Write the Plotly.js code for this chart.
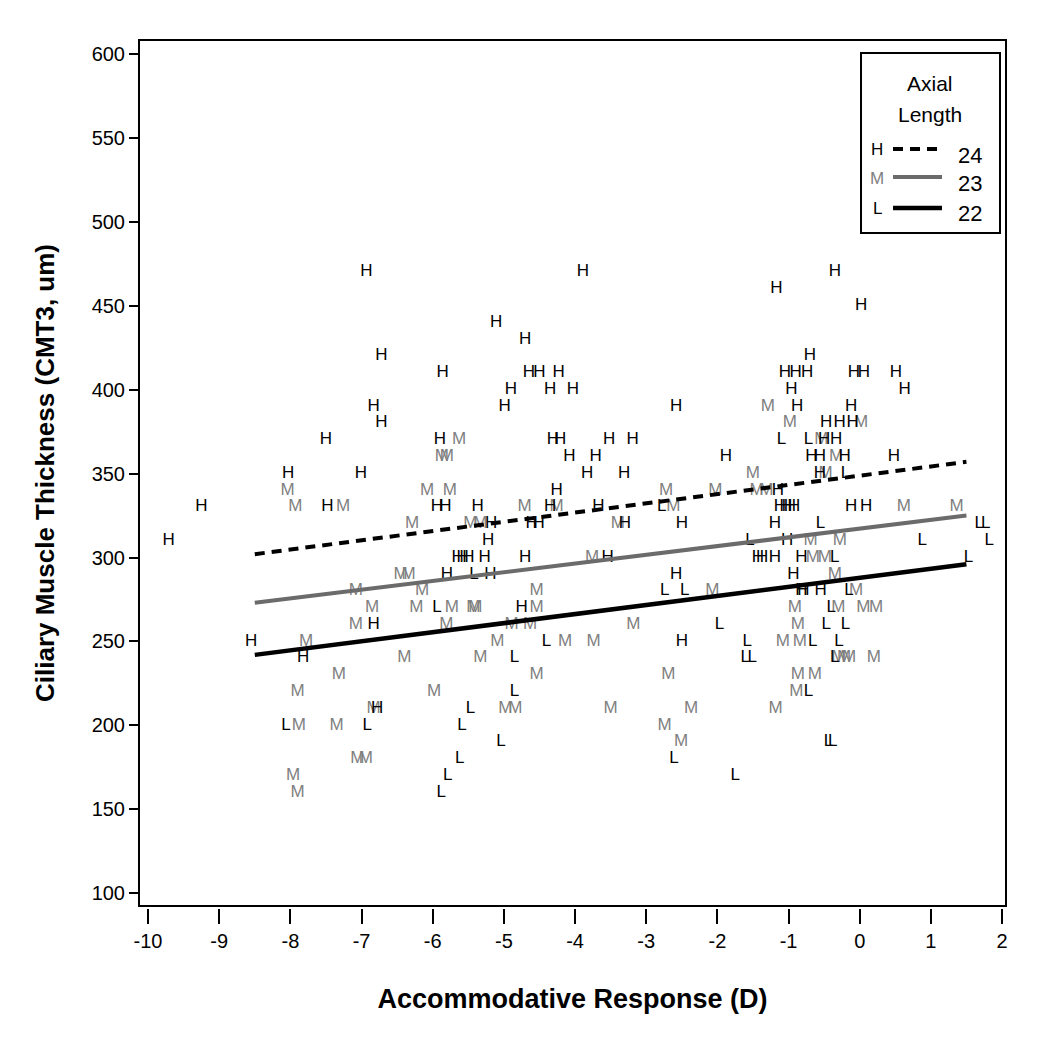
<!DOCTYPE html>
<html>
<head>
<meta charset="utf-8">
<script src="https://cdn.plot.ly/plotly-3.0.1.min.js"></script>
<style>html,body{margin:0;padding:0;background:#fff;}#chart{width:1046px;height:1050px;}</style>
</head>
<body>
<div id="chart"></div>
<script>
// ---- Data ----
// Group H (long axial length)
var H_X = [-6.93,-3.89,-0.35,-1.17,0.02,-5.11,-4.70,-6.72,-0.70,-5.86,-4.65,-4.50,-4.23,-1.05,-0.90,-0.74,-0.08,0.06,0.51,
  -4.90,-4.35,-4.03,-0.96,0.63,-6.83,-4.99,-2.58,-0.88,-0.12,-6.72,-0.47,-0.28,-0.10,
  -7.50,-5.90,-4.31,-4.21,-3.52,-3.19,-0.50,-0.33,-4.08,-3.71,-1.88,-0.68,-0.56,-0.21,0.48,
  -8.03,-7.01,-3.83,-3.31,-0.56,-4.26,-1.15,
  -9.25,-7.48,-5.94,-5.82,-5.37,-4.35,-3.67,-1.12,-1.04,-0.98,-0.92,-0.12,0.09,
  -5.18,-4.61,-4.51,-3.30,-2.50,-1.19,-9.71,-5.22,-1.02,
  -5.65,-5.58,-5.50,-5.27,-4.70,-3.54,-1.43,-1.37,-1.19,-0.82,
  -5.80,-5.19,-2.58,-0.93,-0.82,-0.79,-0.55,-4.75,-6.83,-8.55,-2.50,-7.82,-6.78];
var H_Y = [470,470,470,460,450,440,430,420,420,410,410,410,410,410,410,410,410,410,410,
  400,400,400,400,400,390,390,390,390,390,380,380,380,380,
  370,370,370,370,370,370,370,370,360,360,360,360,360,360,360,
  350,350,350,350,350,340,340,
  330,330,330,330,330,330,330,330,330,330,330,330,330,
  320,320,320,320,320,320,310,310,310,
  300,300,300,300,300,300,300,300,300,300,
  290,290,290,290,280,280,280,270,260,250,250,240,210];

// Group M (medium axial length)
var M_X = [-8.04,-7.93,-7.26,-6.08,-6.29,-5.63,-5.87,-5.80,-5.76,-2.72,-2.03,-4.71,-4.26,-2.62,-5.47,-5.33,-3.40,
  -1.29,-0.98,0.02,-0.54,-0.33,-1.50,-0.48,-1.45,-1.31,0.62,1.36,-0.69,-0.28,-3.76,-0.66,-0.49,-0.35,
  -6.45,-6.34,-7.08,-6.15,-4.54,-2.07,-0.05,
  -6.85,-6.23,-5.73,-5.43,-5.40,-4.54,-0.91,-0.30,0.05,0.23,
  -7.08,-5.81,-4.89,-4.63,-3.18,-0.87,
  -7.78,-5.09,-4.14,-3.74,-1.08,-0.84,
  -6.40,-5.33,-0.30,-0.22,-0.15,0.20,
  -7.32,-4.54,-2.69,-0.87,-0.63,
  -7.90,-5.98,-0.89,
  -6.83,-4.98,-4.84,-3.50,-2.37,-1.18,
  -7.88,-7.35,-2.74,-2.51,-7.06,-6.94,-7.96,-7.90];
var M_Y = [340,330,330,340,320,370,360,360,340,340,340,330,330,330,320,320,320,
  390,380,380,370,360,350,350,340,340,330,330,310,310,300,300,300,290,
  290,290,280,280,280,280,280,
  270,270,270,270,270,270,270,270,270,270,
  260,260,260,260,260,260,
  250,250,250,250,250,250,
  240,240,240,240,240,240,
  230,230,230,230,230,
  220,220,220,
  210,210,210,210,210,210,
  200,200,200,190,180,180,170,160];

// Group L (short axial length)
var L_X = [-2.78,-1.10,-0.72,-0.20,-0.55,1.68,1.77,-1.54,0.88,1.82,-0.35,1.53,
  -5.42,-2.74,-2.46,-0.15,-5.94,-0.40,-1.97,-0.47,-0.20,
  -4.40,-1.58,-0.66,-0.29,-4.85,-1.61,-1.51,-0.35,
  -4.85,-0.72,-5.47,-8.06,-6.92,-5.59,-5.04,-0.44,-0.38,-5.62,-2.61,-5.79,-1.75,-5.88];
var L_Y = [330,370,370,350,320,320,320,310,310,310,300,300,
  290,280,280,280,270,270,260,260,260,
  250,250,250,250,240,240,240,240,
  220,220,210,200,200,200,190,190,190,180,180,170,170,160];

// Fitted lines at axial length 24 / 23 / 22 mm
var FIT_X = [-8.5, 1.5];
var FIT_24 = [302, 357];
var FIT_23 = [273, 325];
var FIT_22 = [242, 296];

// Tick labels (plain hyphen minus, as in the reference)
var X_TICKS = [-10,-9,-8,-7,-6,-5,-4,-3,-2,-1,0,1,2];
var X_TICK_LABELS = ['-10','-9','-8','-7','-6','-5','-4','-3','-2','-1','0','1','2'];
var Y_TICKS = [100,150,200,250,300,350,400,450,500,550,600];
var Y_TICK_LABELS = ['100','150','200','250','300','350','400','450','500','550','600'];

var LEGEND_LABELS = ['24', '23', '22'];
var LEGEND_LETTERS = ['H', 'M', 'L'];

// ---- Styling ----
var FONT = '"Liberation Sans", Arial, Helvetica, sans-serif';
var GRAY_TXT = '#7f7f7f';
var GRAY_LINE = '#6b6b6b';

function textTrace(x, y, letter, color) {
  return {
    x: x, y: y, mode: 'text', type: 'scatter',
    text: x.map(function(){ return letter; }),
    textposition: 'middle center',
    textfont: {family: FONT, size: 17, color: color},
    showlegend: false, hoverinfo: 'skip'
  };
}

var traces = [
  textTrace(M_X, M_Y, 'M', GRAY_TXT),
  textTrace(H_X, H_Y, 'H', '#000'),
  textTrace(L_X, L_Y, 'L', '#000'),
  {x: FIT_X, y: FIT_23, mode: 'lines', type: 'scatter', line: {color: GRAY_LINE, width: 4}, showlegend: false, hoverinfo: 'skip'},
  {x: FIT_X, y: FIT_22, mode: 'lines', type: 'scatter', line: {color: '#000', width: 4.5}, showlegend: false, hoverinfo: 'skip'},
  {x: FIT_X, y: FIT_24, mode: 'lines', type: 'scatter', line: {color: '#000', width: 4, dash: '10px,7px'}, showlegend: false, hoverinfo: 'skip'}
];

// legend helper: pixel -> paper
var PL = 139, PR = 1006, PT = 40, PB = 908;
function px(x){ return (x - PL) / (PR - PL); }
function py(y){ return (PB - y) / (PB - PT); }

var shapes = [
  {type: 'rect', xref: 'x domain', yref: 'y domain', x0: 0, x1: 1, y0: 0, y1: 1, line: {color: '#000', width: 2}, fillcolor: 'rgba(0,0,0,0)', layer: 'above'},
  {type: 'rect', xref: 'paper', yref: 'paper', x0: px(861), x1: px(1000), y0: py(233), y1: py(53), line: {color: '#000', width: 2}, fillcolor: 'rgba(0,0,0,0)'},
  {type: 'line', xref: 'paper', yref: 'paper', x0: px(893), x1: px(942), y0: py(149), y1: py(149), line: {color: '#000', width: 4, dash: '10px,7px'}},
  {type: 'line', xref: 'paper', yref: 'paper', x0: px(893), x1: px(942), y0: py(177), y1: py(177), line: {color: GRAY_LINE, width: 4}},
  {type: 'line', xref: 'paper', yref: 'paper', x0: px(893), x1: px(942), y0: py(208), y1: py(208), line: {color: '#000', width: 4.5}}
];

var rowsY = [149, 178, 208];
var numsY = [155, 184, 213];
var letterColors = ['#000', GRAY_TXT, '#000'];
var annotations = [
  {xref: 'paper', yref: 'paper', x: px(930), y: py(83), text: 'Axial', showarrow: false, xanchor: 'center', yanchor: 'middle', font: {family: FONT, size: 21, color: '#000'}},
  {xref: 'paper', yref: 'paper', x: px(930), y: py(115), text: 'Length', showarrow: false, xanchor: 'center', yanchor: 'middle', font: {family: FONT, size: 21, color: '#000'}}
];
for (var i = 0; i < 3; i++) {
  annotations.push({xref: 'paper', yref: 'paper', x: px(877), y: py(rowsY[i]), text: LEGEND_LETTERS[i], showarrow: false, xanchor: 'center', yanchor: 'middle', font: {family: FONT, size: 17, color: letterColors[i]}});
  annotations.push({xref: 'paper', yref: 'paper', x: px(970), y: py(numsY[i]), text: LEGEND_LABELS[i], showarrow: false, xanchor: 'center', yanchor: 'middle', font: {family: FONT, size: 22, color: '#000'}});
}

var layout = {
  width: 1046, height: 1050,
  margin: {l: 139, r: 40, t: 40, b: 142, pad: 0},
  paper_bgcolor: '#fff', plot_bgcolor: '#fff',
  showlegend: false,
  hovermode: false,
  font: {family: FONT, color: '#000'},
  xaxis: {
    range: [-10.127, 2.056], tickmode: 'array', tickvals: X_TICKS, ticktext: X_TICK_LABELS,
    anchor: 'free', position: 0,
    showline: false, showgrid: false, zeroline: false,
    ticks: 'outside', ticklen: 15, tickwidth: 2, tickcolor: '#000',
    tickfont: {family: FONT, size: 20, color: '#000'},
    title: {text: '<b>Accommodative Response (D)</b>', font: {family: FONT, size: 27, color: '#000'}, standoff: 38}
  },
  yaxis: {
    range: [92.4, 608.3], tickmode: 'array', tickvals: Y_TICKS, ticktext: Y_TICK_LABELS,
    domain: [2 / 868, 1],
    showline: false, showgrid: false, zeroline: false,
    ticks: 'outside', ticklen: 9, tickwidth: 2, tickcolor: '#000',
    tickfont: {family: FONT, size: 20, color: '#000'},
    title: {text: '<b>Ciliary Muscle Thickness (CMT3, um)</b>', font: {family: FONT, size: 26, color: '#000'}, standoff: 29}
  },
  shapes: shapes,
  annotations: annotations
};

Plotly.newPlot('chart', traces, layout, {displayModeBar: false, staticPlot: true});
</script>
</body>
</html>
